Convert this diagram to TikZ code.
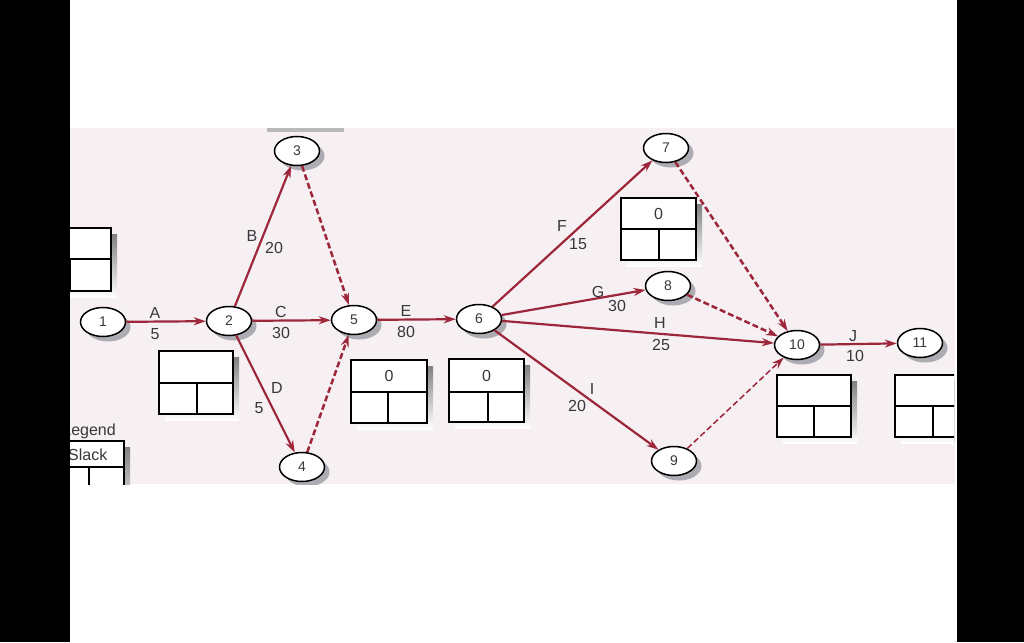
\documentclass[tikz,border=0pt]{standalone}
\usepackage{fontspec}
\setmainfont{Liberation Sans}
\usetikzlibrary{shapes.geometric,shadows,arrows.meta}
\definecolor{edgered}{RGB}{158,38,58}
\definecolor{paper}{RGB}{246,240,242}
\definecolor{shade}{RGB}{172,172,178}
\definecolor{ink}{RGB}{55,55,60}
\newcommand\actbox[7]{% x1 y1 x2 y2 divider-y vertical-x text
  \fill[shade] (#1+6,#2+6) rectangle (#3+6,#4+6);
  \filldraw[fill=white,draw=black,line width=1.8pt] (#1,#2) rectangle (#3,#4);
  \draw[line width=1.8pt] (#1,#5) -- (#3,#5);
  \draw[line width=1.8pt] (#6,#5) -- (#6,#4);
  \node[lab] at ({(#1+#3)/2},{(#2+#5)/2}) {#7};
}
\begin{document}
\begin{tikzpicture}[x=1pt,y=-1pt,
  ev/.style={ellipse,draw=black,line width=1.5pt,fill=white,minimum width=45pt,minimum height=29pt,inner sep=0pt,text=ink,font=\fontsize{14}{14}\selectfont,drop shadow={shadow xshift=5pt,shadow yshift=-5pt,fill=shade,opacity=1}},
  act/.style={draw=edgered,line width=2.2pt,-{Stealth[length=12pt,width=8pt]}},
  dum/.style={act,line width=2.5pt,dash pattern=on 6pt off 3pt},
  lab/.style={font=\fontsize{16}{16}\selectfont,text=ink,inner sep=0pt},
]
\useasboundingbox (0,0) rectangle (1024,642);
\fill[white] (0,0) rectangle (1024,642);
\fill[paper] (70,128) rectangle (955,484);
\fill[gray!55] (267,128) rectangle (344,132);

\begin{scope}
\clip (70,128) rectangle (954,484);
% boxes
\actbox{30}{228}{111}{291}{259}{70}{}
\actbox{159}{351}{233}{414}{383}{197}{}
\actbox{351}{360}{427}{423}{392}{388}{0}
\actbox{449}{359}{524}{422}{392}{488}{0}
\actbox{621}{198}{696}{260}{229}{659}{0}
\actbox{777}{375}{851}{437}{406}{814}{}
\actbox{895}{375}{971}{437}{406}{933}{}
\actbox{50}{441}{124}{520}{467}{89}{}
\node[lab,anchor=east] (legend) at (116,431) {Legend};
\node[lab,anchor=west] (slack) at (68,455) {Slack};

% events
\node[ev] (n1) at (103,322) {1};
\node[ev] (n2) at (229,321) {2};
\node[ev] (n3) at (297,151) {3};
\node[ev] (n4) at (302,467) {4};
\node[ev] (n5) at (354,320) {5};
\node[ev] (n6) at (479,319) {6};
\node[ev] (n7) at (666,148) {7};
\node[ev] (n8) at (668,286) {8};
\node[ev] (n9) at (674,461) {9};
\node[ev] (n10) at (797,345) {10};
\node[ev] (n11) at (920,343) {11};

% activities
\draw[act] (n1) -- (n2);
\draw[act] (n2) -- (n3);
\draw[act] (n2) -- (n5);
\draw[act] (n2) -- (n4);
\draw[act] (n5) -- (n6);
\draw[act] (n6) -- (n7);
\draw[act] (n6) -- (n8);
\draw[act] (n6) -- (n10);
\draw[act] (n6) -- (n9);
\draw[act] (n10) -- (n11);
% dummies
\draw[dum] (n3) -- (n5);
\draw[dum] (n4) -- (n5);
\draw[dum] (n7) -- (n10);
\draw[dum] (n8) -- (n10);
\draw[dum,line width=1.5pt] (n9) -- (n10);

% labels
\node[lab] (la) at (155,313) {A};
\node[lab] (ta) at (155,334) {5};
\node[lab] (lb) at (252,236) {B};
\node[lab] (tb) at (274,248) {20};
\node[lab] (lc) at (281,312) {C};
\node[lab] (tc) at (281,333) {30};
\node[lab] (ld) at (277,388) {D};
\node[lab] (td) at (259,408) {5};
\node[lab] (le) at (406,311) {E};
\node[lab] (te) at (406,332) {80};
\node[lab] (lf) at (562,226) {F};
\node[lab] (tf) at (578,244) {15};
\node[lab] (lg) at (598,292) {G};
\node[lab] (tg) at (617,306) {30};
\node[lab] (lh) at (660,323) {H};
\node[lab] (th) at (661,345) {25};
\node[lab] (li) at (592,389) {I};
\node[lab] (ti) at (577,406) {20};
\node[lab] (lj) at (853,336) {J};
\node[lab] (tj) at (855,356) {10};
\end{scope}

\fill[black] (0,0) rectangle (70,642);
\fill[black] (957,0) rectangle (1024,642);
\end{tikzpicture}
\end{document}
